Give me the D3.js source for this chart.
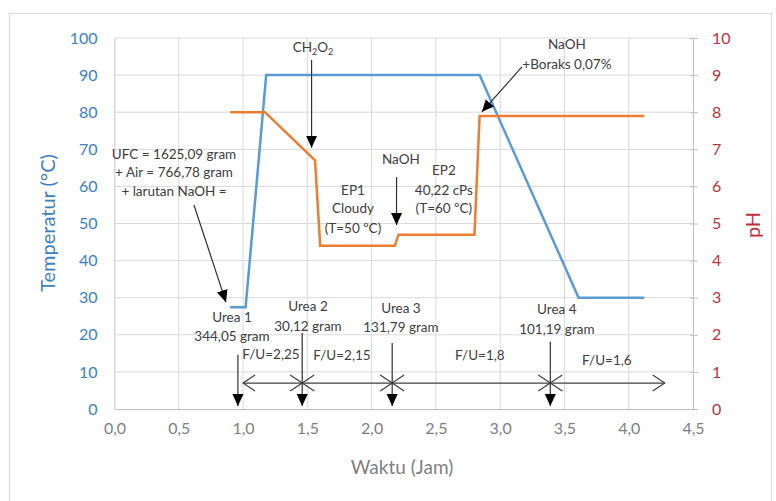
<!DOCTYPE html>
<html>
<head>
<meta charset="utf-8">
<script src="https://cdn.jsdelivr.net/npm/d3@7"></script>
<style>
  body { margin: 0; background: #fff; }
  svg { display: block; font-family: Lato, "Open Sans", sans-serif; }
</style>
</head>
<body>
<div id="chart"></div>
<script>
// temperature series (blue, left axis)
const tempTime = [0.9, 1.02, 1.18, 2.84, 3.61, 4.12];
const tempVal = [27.4, 27.4, 90, 90, 30, 30];

// pH series (orange, right axis)
const phTime = [0.9, 1.17, 1.56, 1.6, 2.18, 2.21, 2.8, 2.84, 4.12];
const phVal = [8, 8, 6.7, 4.4, 4.4, 4.7, 4.7, 7.9, 7.9];

// tick labels
const xTicks = [0, 0.5, 1, 1.5, 2, 2.5, 3, 3.5, 4, 4.5];
const tempTicks = [0, 10, 20, 30, 40, 50, 60, 70, 80, 90, 100];
const phTicks = [0, 1, 2, 3, 4, 5, 6, 7, 8, 9, 10];

// urea additions and F/U periods
const ureaTimes = [0.96, 1.46, 2.16, 3.39];
const ureaLabels = [["Urea 1", "344,05 gram"], ["Urea 2", "30,12 gram"], ["Urea 3", "131,79 gram"], ["Urea 4", "101,19 gram"]];
const fuBounds = [1.0, 1.46, 2.16, 3.39, 4.28];
const fuLabels = ["F/U=2,25", "F/U=2,15", "F/U=1,8", "F/U=1,6"];

const width = 776, height = 501;
const plotLeft = 114.5, plotRight = 693, plotTop = 38, plotBottom = 409;

const svg = d3.select("#chart").append("svg")
  .attr("width", width)
  .attr("height", height);

svg.append("rect")
  .attr("x", 9.5).attr("y", 13.5)
  .attr("width", 762).attr("height", 500)
  .attr("fill", "#fff")
  .attr("stroke", "#d9d9d9");

const x = d3.scaleLinear().domain([0, 4.5]).range([plotLeft, plotRight]);
const y = d3.scaleLinear().domain([0, 100]).range([plotBottom, plotTop]);
const yPh = d3.scaleLinear().domain([0, 10]).range([plotBottom, plotTop]);

// grid
svg.append("g")
  .selectAll("line")
  .data(tempTicks.slice(1))
  .enter().append("line")
  .attr("x1", plotLeft).attr("x2", plotRight)
  .attr("y1", d => y(d)).attr("y2", d => y(d))
  .attr("stroke", "#d9d9d9");

svg.append("g")
  .selectAll("line")
  .data(xTicks.slice(0, -1))
  .enter().append("line")
  .attr("x1", d => x(d)).attr("x2", d => x(d))
  .attr("y1", plotTop).attr("y2", plotBottom)
  .attr("stroke", "#d9d9d9");

// axes
const xAxis = svg.append("g")
  .attr("transform", `translate(0,${plotBottom})`)
  .call(d3.axisBottom(x).tickValues(xTicks).tickSize(0).tickPadding(14)
    .tickFormat(d => d3.format(".1f")(d).replace(".", ",")));
xAxis.select(".domain").attr("stroke", "#bfbfbf");
xAxis.selectAll("text").attr("fill", "#7f7f7f").style("font-size", "16px").style("font-family", "Lato");

const yAxis = svg.append("g")
  .attr("transform", `translate(${plotLeft},0)`)
  .call(d3.axisLeft(y).tickValues(tempTicks).tickSize(0).tickPadding(17));
yAxis.select(".domain").attr("stroke", "#d9d9d9");
yAxis.selectAll("text").attr("fill", "#3a82c4").style("font-size", "16px").style("font-family", "Lato");

const yAxisR = svg.append("g")
  .attr("transform", `translate(${plotRight},0)`)
  .call(d3.axisRight(yPh).tickValues(phTicks).tickSizeOuter(0).tickSizeInner(5).tickPadding(14));
yAxisR.select(".domain").attr("stroke", "#bfbfbf");
yAxisR.selectAll(".tick line").attr("stroke", "#bfbfbf").attr("x1", -3);
yAxisR.selectAll("text").attr("fill", "#c0313a").style("font-size", "16px").style("font-family", "Lato");

// axis titles
svg.append("text")
  .attr("transform", `translate(55,223) rotate(-90)`)
  .attr("text-anchor", "middle")
  .attr("fill", "#3a82c4")
  .style("font-size", "20px")
  .text("Temperatur (°C)");

svg.append("text")
  .attr("transform", `translate(760,225) rotate(-90)`)
  .attr("text-anchor", "middle")
  .attr("fill", "#c0313a")
  .style("font-size", "20px")
  .text("pH");

svg.append("text")
  .attr("x", 402).attr("y", 474)
  .attr("text-anchor", "middle")
  .attr("fill", "#7f7f7f")
  .style("font-size", "19px")
  .text("Waktu (Jam)");

// series
const tempLine = d3.line().x((d, i) => x(tempTime[i])).y(d => y(d));
svg.append("path")
  .datum(tempVal)
  .attr("fill", "none")
  .attr("stroke", "#5b9bd5")
  .attr("stroke-width", 2.5)
  .attr("d", tempLine);

const phLine = d3.line().x((d, i) => x(phTime[i])).y(d => yPh(d));
svg.append("path")
  .datum(phVal)
  .attr("fill", "none")
  .attr("stroke", "#ed7d31")
  .attr("stroke-width", 2.5)
  .attr("d", phLine);

// markers
const defs = svg.append("defs");
defs.append("marker")
  .attr("id", "solid")
  .attr("markerUnits", "userSpaceOnUse")
  .attr("viewBox", "0 -6 12 12")
  .attr("refX", 12).attr("refY", 0)
  .attr("markerWidth", 12).attr("markerHeight", 12)
  .attr("orient", "auto")
  .append("path")
  .attr("d", "M0,-5.5L12,0L0,5.5Z")
  .attr("fill", "#000");

defs.append("marker")
  .attr("id", "open")
  .attr("markerUnits", "userSpaceOnUse")
  .attr("viewBox", "-1 -9 14 18")
  .attr("refX", 12).attr("refY", 0)
  .attr("markerWidth", 14).attr("markerHeight", 18)
  .attr("orient", "auto-start-reverse")
  .append("path")
  .attr("d", "M0,-8L12,0L0,8")
  .attr("fill", "none")
  .attr("stroke", "#404040")
  .attr("stroke-width", 1.2);

const ink = "#404040";
const note = svg.append("g").style("font-size", "13.5px").attr("fill", ink).attr("text-anchor", "middle");

function textLines(cx, baselines, lines) {
  lines.forEach((t, i) => {
    note.append("text").attr("x", x(cx)).attr("y", y(baselines[i])).text(t);
  });
}

function arrow(x1, y1, x2, y2) {
  svg.append("line")
    .attr("x1", x(x1)).attr("y1", y(y1))
    .attr("x2", x(x2)).attr("y2", y(y2))
    .attr("stroke", "#303030")
    .attr("stroke-width", 1.2)
    .attr("marker-end", "url(#solid)");
}

// F/U double arrows
for (let i = 0; i < fuLabels.length; i++) {
  svg.append("line")
    .attr("x1", x(fuBounds[i])).attr("x2", x(fuBounds[i + 1]))
    .attr("y1", y(7)).attr("y2", y(7))
    .attr("stroke", ink)
    .attr("stroke-width", 1.2)
    .attr("marker-start", "url(#open)")
    .attr("marker-end", "url(#open)");
}
const fuX = [1.217, 1.769, 2.842, 3.83];
const fuY = [13.5, 13.2, 13.2, 11.9];
fuLabels.forEach((t, i) => textLines(fuX[i], [fuY[i]], [t]));

// urea arrows and labels
const ureaStart = [14.6, 20.5, 17.8, 18.1];
const ureaTextX = [0.914, 1.505, 2.228, 3.441];
const ureaTextY = [[23.5, 18.3], [26.4, 21.0], [25.9, 20.8], [25.6, 20.2]];
ureaTimes.forEach((t, i) => {
  arrow(t, ureaStart[i], t, 0.8);
  textLines(ureaTextX[i], ureaTextY[i], ureaLabels[i]);
});

// other notes
textLines(0.463, [67.5, 62.4, 57.4], ["UFC = 1625,09 gram", "+ Air = 766,78 gram", "+ larutan NaOH ="]);
arrow(0.618, 55.0, 0.867, 28.8);

const ch = note.append("text").attr("x", x(1.544)).attr("y", y(96.2));
ch.append("tspan").text("CH");
ch.append("tspan").attr("dy", 3).style("font-size", "9px").text("2");
ch.append("tspan").attr("dy", -3).text("O");
ch.append("tspan").attr("dy", 3).style("font-size", "9px").text("2");
arrow(1.533, 94.1, 1.533, 70.4);

textLines(2.228, [66.0], ["NaOH"]);
arrow(2.194, 62.5, 2.194, 49.6);

textLines(1.855, [57.7, 52.8, 47.4], ["EP1", "Cloudy", "(T=50 \u00BAC)"]);
textLines(2.562, [63.1, 57.7, 52.8], ["EP2", "40,22 cPs", "(T=60 \u00BAC)"]);

textLines(3.519, [97.0, 91.6], ["NaOH", "+Boraks 0,07%"]);
arrow(3.169, 92.2, 2.858, 80.1);
</script>
</body>
</html>
